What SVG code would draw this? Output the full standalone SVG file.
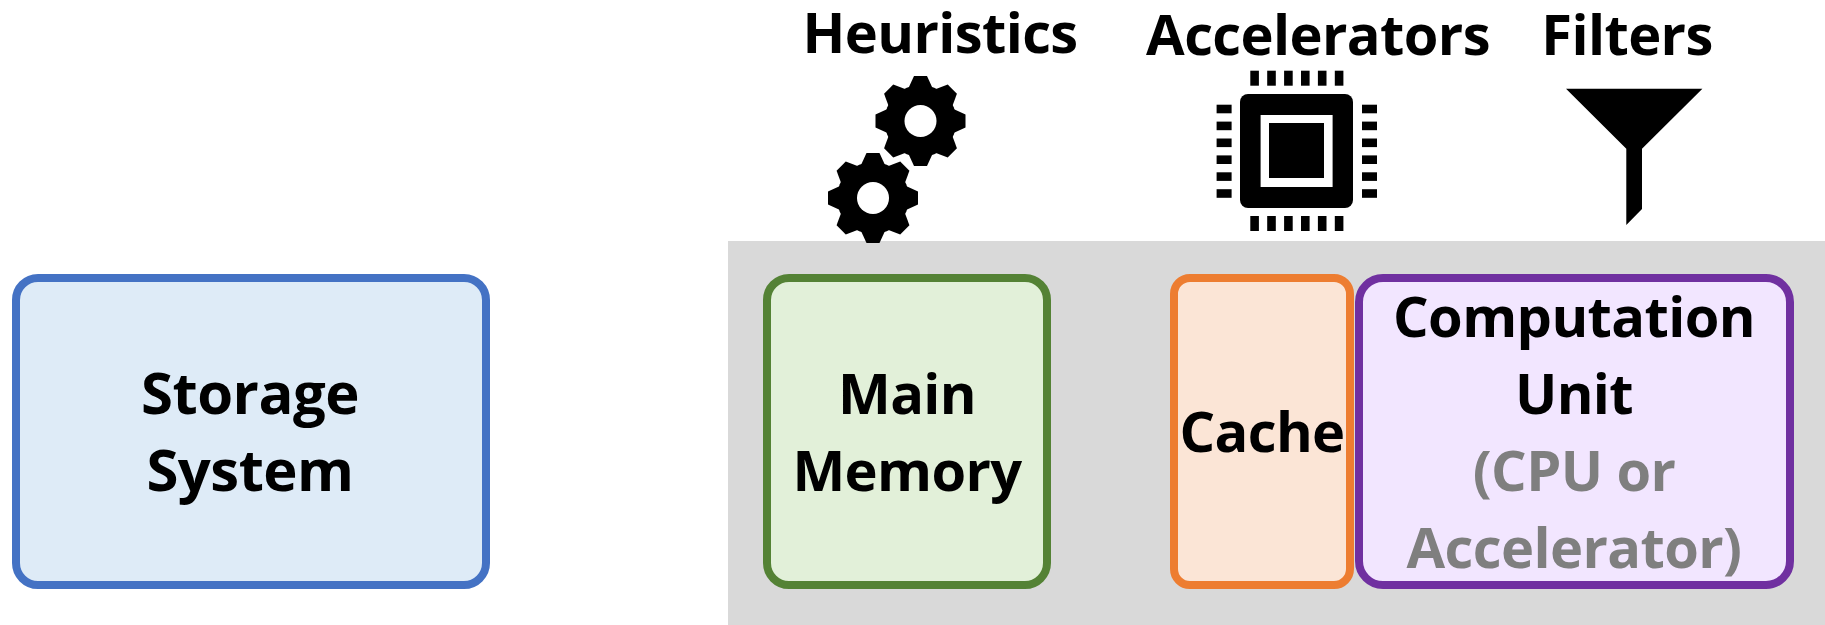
<svg xmlns="http://www.w3.org/2000/svg" width="1825" height="625" viewBox="0 0 1825 625">
<defs>
<style>
text{font-family:"Open Sans","Noto Sans","Liberation Sans",sans-serif;font-weight:700;font-size:56px;letter-spacing:-0.6px;text-anchor:middle;fill:#000}
.large{font-size:58px;letter-spacing:-0.5px}
.sub{fill:#7f7f7f}
.box{stroke-width:8}
</style>
<g id="tooth"><polygon points="-6.5,-45 6.5,-45 12,-33 -12,-33"/></g>
<g id="gear">
<circle r="36"/>
<use href="#tooth"/><use href="#tooth" transform="rotate(45)"/><use href="#tooth" transform="rotate(90)"/><use href="#tooth" transform="rotate(135)"/><use href="#tooth" transform="rotate(180)"/><use href="#tooth" transform="rotate(225)"/><use href="#tooth" transform="rotate(270)"/><use href="#tooth" transform="rotate(315)"/>
<circle r="16" fill="#fff"/>
</g>
<g id="pinrow"><rect x="0" width="8.6" height="15"/><rect x="16.9" width="8.6" height="15"/><rect x="33.8" width="8.6" height="15"/><rect x="50.7" width="8.6" height="15"/><rect x="67.6" width="8.6" height="15"/><rect x="84.5" width="8.6" height="15"/></g>
<g id="pincol"><rect y="0" width="15" height="8.6"/><rect y="16.9" width="15" height="8.6"/><rect y="33.8" width="15" height="8.6"/><rect y="50.7" width="15" height="8.6"/><rect y="67.6" width="15" height="8.6"/><rect y="84.5" width="15" height="8.6"/></g>
</defs>
<rect width="1825" height="625" fill="#fff"/>
<rect id="background-panel" x="728" y="241" width="1097" height="384" fill="#d9d9d9"/>
<g id="connectors"></g>
<g id="storage"><rect class="box" x="16" y="278" width="470" height="307" rx="22" fill="#deebf7" stroke="#4472c4"/><text class="large" x="250" y="414">Storage</text><text class="large" x="250" y="491">System</text></g>
<g id="memory"><rect class="box" x="767" y="278" width="280" height="307" rx="22" fill="#e2f0d9" stroke="#548235"/><text x="907" y="414">Main</text><text x="907" y="491">Memory</text></g>
<g id="cache"><rect class="box" x="1174" y="278" width="176" height="307" rx="16" fill="#fbe5d6" stroke="#ed7d31"/><text x="1262" y="452">Cache</text></g>
<g id="computation"><rect class="box" x="1359" y="278" width="431" height="307" rx="24" fill="#f2e6ff" stroke="#7030a0"/><text x="1574" y="337">Computation</text><text x="1574" y="414">Unit</text><text class="sub" x="1574" y="491">(CPU or</text><text class="sub" x="1574" y="568">Accelerator)</text></g>
<g id="heuristics"><text x="940" y="53">Heuristics</text><use href="#gear" transform="translate(920.5 121)"/><use href="#gear" transform="translate(873 198)"/></g>
<g id="accelerators"><text x="1318" y="55">Accelerators</text>
<rect x="1240" y="94" width="113" height="114" rx="8"/><rect x="1260.6" y="115" width="72" height="72" fill="#fff"/><rect x="1269" y="123" width="55" height="55"/>
<use href="#pinrow" x="1250.3" y="70.7"/><use href="#pinrow" x="1250.3" y="216"/><use href="#pincol" x="1216.6" y="104.7"/><use href="#pincol" x="1362" y="104.7"/></g>
<g id="filters"><text x="1627" y="55">Filters</text><polygon points="1566,88.7 1702.4,88.7 1642,148.7 1642,209 1626.3,225 1626.3,148.7"/></g>
</svg>
